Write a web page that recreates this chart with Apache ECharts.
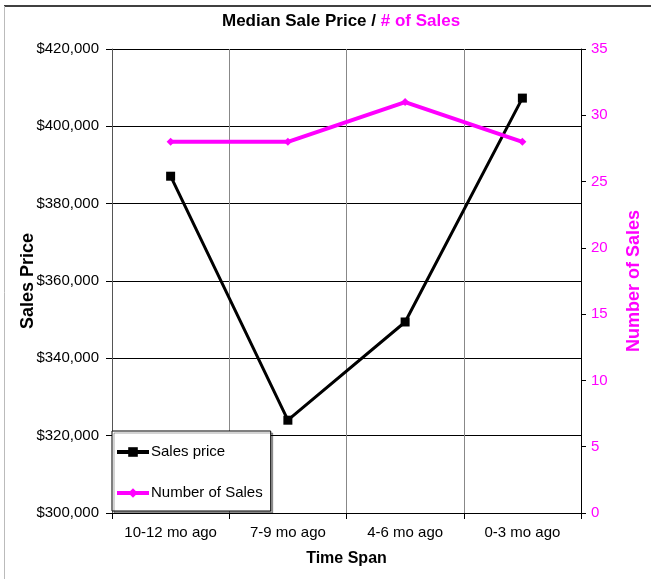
<!DOCTYPE html>
<html><head><meta charset="utf-8">
<script src="https://cdn.jsdelivr.net/npm/echarts@6/dist/echarts.min.js"></script>
<style>html,body{margin:0;padding:0;background:#fff;overflow:hidden}#c{width:651px;height:579px}</style>
</head><body><div id="c"></div>
<script>
const categories = ['10-12 mo ago', '7-9 mo ago', '4-6 mo ago', '0-3 mo ago'];
const salesPrice = [387100, 324000, 349400, 407300];
const numberOfSales = [28, 28, 31, 28];
const priceTicks = { min: 300000, max: 420000, interval: 20000 };
const countTicks = { min: 0, max: 35, interval: 5 };

const FONT = '"Liberation Sans", Arial, sans-serif';
const NARROW = '"Liberation Sans Narrow", "Arial Narrow", "Liberation Sans", sans-serif';
const MAG = '#ff00ff';

const chart = echarts.init(document.getElementById('c'), null, { renderer: 'canvas', width: 651, height: 579 });
chart.setOption({
  animation: false,
  backgroundColor: '#fff',
  textStyle: { fontFamily: FONT },
  graphic: [
    { type: 'line', shape: { x1: 4, y1: 6, x2: 651, y2: 6 }, style: { stroke: '#000', lineWidth: 1.5 } },
    { type: 'line', shape: { x1: 4.5, y1: 6, x2: 4.5, y2: 579 }, style: { stroke: '#bbb', lineWidth: 1 } }
  ],
  title: {
    text: '{a|Median Sale Price / }{b|# of Sales}',
    left: 222, top: 13, padding: 0,
    textStyle: {
      rich: {
        a: { fontFamily: NARROW, fontWeight: 'bold', fontSize: 17, color: '#000' },
        b: { fontFamily: NARROW, fontWeight: 'bold', fontSize: 17, color: MAG }
      }
    }
  },
  legend: {
    orient: 'vertical', left: 112, top: 431,
    width: 153, padding: [13, 8, 10, 3], itemGap: 25,
    itemWidth: 32, itemHeight: 12,
    backgroundColor: '#fff', borderColor: '#000', borderWidth: 1,
    shadowColor: 'rgba(0,0,0,0.35)', shadowOffsetX: 2, shadowOffsetY: 2, shadowBlur: 0,
    textStyle: { fontFamily: FONT, fontSize: 15, color: '#000', lineHeight: 16, padding: [0, 0, 0, -3] },
    data: [
      { name: 'Sales price', lineStyle: { width: 4, color: '#000' } },
      { name: 'Number of Sales', lineStyle: { width: 4, color: MAG } }
    ]
  },
  grid: { left: 112, right: 64, top: 49, bottom: 66, containLabel: false },
  xAxis: {
    type: 'category', data: categories, boundaryGap: true,
    name: 'Time Span', nameLocation: 'middle', nameGap: 38,
    nameTextStyle: { fontFamily: FONT, fontWeight: 'bold', fontSize: 16, color: '#000' },
    axisLine: { lineStyle: { color: '#000', width: 1 } },
    axisTick: { show: true, length: 6, interval: 0, lineStyle: { color: '#000' } },
    axisLabel: { fontFamily: FONT, fontSize: 15, color: '#000', margin: 12, interval: 0 },
    splitLine: { show: true, interval: 0, lineStyle: { color: '#888', width: 1 } }
  },
  yAxis: [
    {
      type: 'value', min: priceTicks.min, max: priceTicks.max, interval: priceTicks.interval,
      name: 'Sales Price', nameLocation: 'middle', nameGap: 75, nameRotate: 90, nameMoveOverlap: false,
      nameTextStyle: { fontFamily: FONT, fontWeight: 'bold', fontSize: 18, color: '#000' },
      axisLine: { show: true, lineStyle: { color: '#555', width: 1 } },
      axisTick: { show: true, length: 6, lineStyle: { color: '#000' } },
      axisLabel: {
        fontFamily: FONT, fontSize: 15, color: '#000', margin: 13,
        formatter: v => '$' + v.toLocaleString('en-US')
      },
      splitLine: { show: true, lineStyle: { color: '#000', width: 1 } }
    },
    {
      type: 'value', position: 'right', min: countTicks.min, max: countTicks.max, interval: countTicks.interval,
      name: 'Number of Sales', nameLocation: 'middle', nameGap: 44, nameRotate: 90, nameMoveOverlap: false,
      nameTextStyle: { fontFamily: FONT, fontWeight: 'bold', fontSize: 18, color: MAG },
      axisLine: { show: true, lineStyle: { color: '#000', width: 1 } },
      axisTick: { show: true, length: 5, lineStyle: { color: '#000' } },
      axisLabel: { fontFamily: FONT, fontSize: 15, color: MAG, margin: 10 },
      splitLine: { show: false }
    }
  ],
  series: [
    {
      name: 'Sales price', type: 'line', yAxisIndex: 0, data: salesPrice,
      symbol: 'rect', symbolSize: 9,
      lineStyle: { color: '#000', width: 3 },
      itemStyle: { color: '#000' }
    },
    {
      name: 'Number of Sales', type: 'line', yAxisIndex: 1, data: numberOfSales,
      symbol: 'diamond', symbolSize: 8,
      lineStyle: { color: MAG, width: 4 },
      itemStyle: { color: MAG }
    }
  ]
});
</script></body></html>
